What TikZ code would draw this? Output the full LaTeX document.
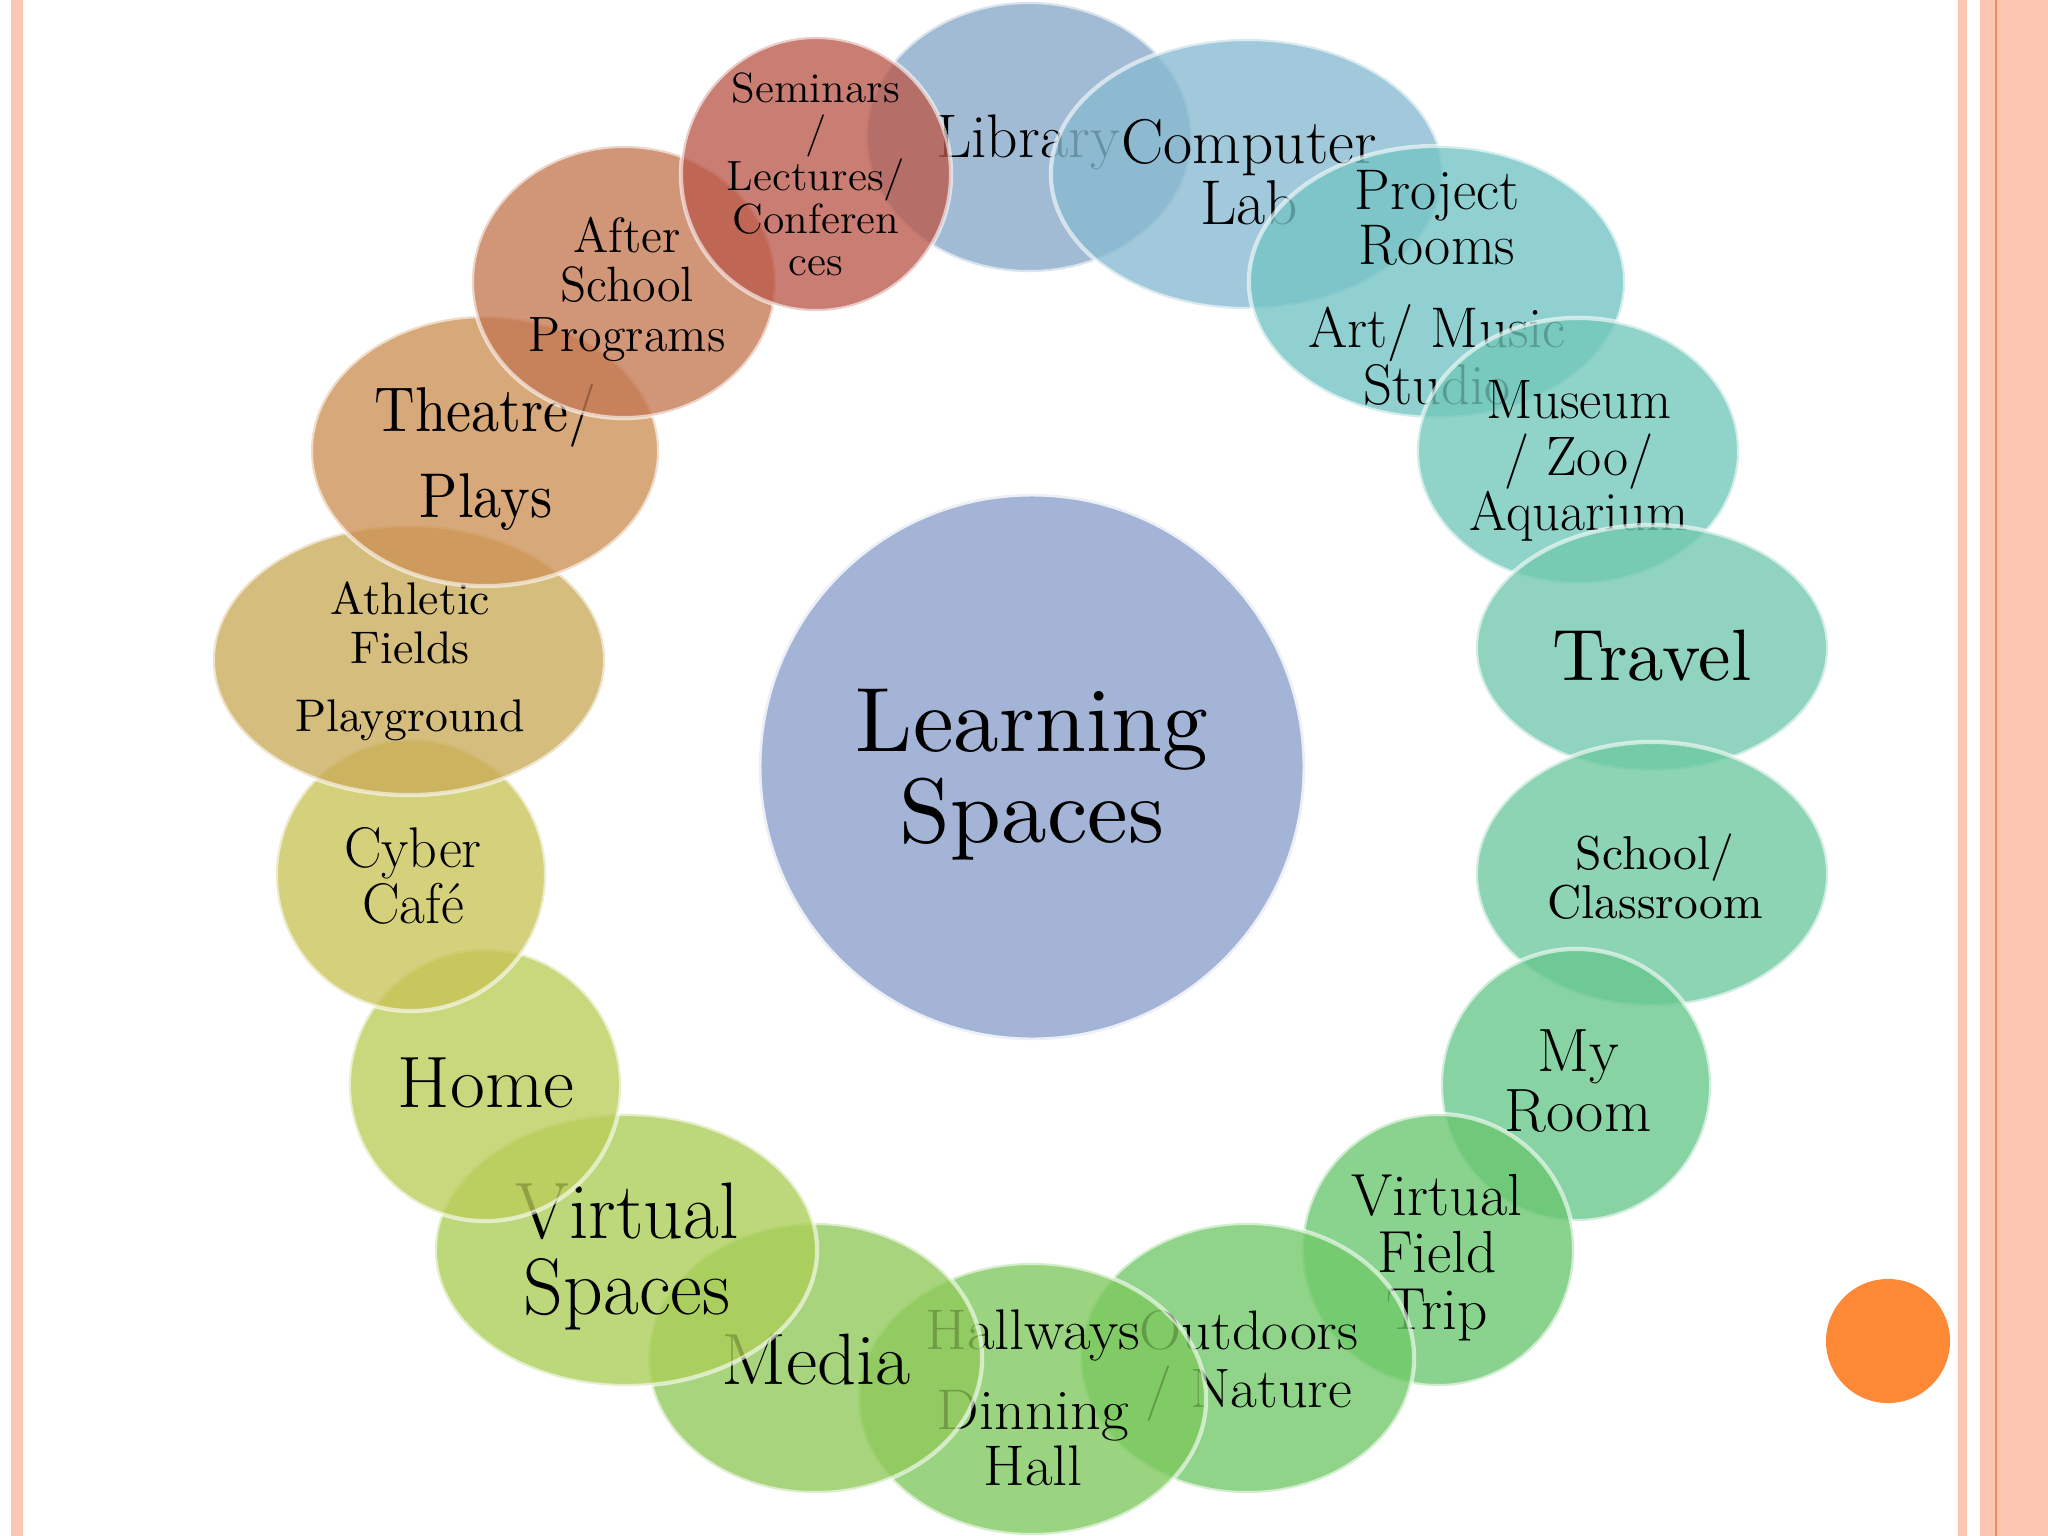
\documentclass[tikz,border=0pt]{standalone}
\usepackage{graphicx}
\usetikzlibrary{shapes.geometric}
\definecolor{cBord}{RGB}{251,198,178}
\definecolor{cBordLine}{RGB}{240,140,90}
\definecolor{cDot}{RGB}{253,137,54}
\definecolor{cCenter}{RGB}{164,180,214}
\definecolor{cLib}{RGB}{136,169,200}
\definecolor{cComp}{RGB}{136,186,209}
\definecolor{cProj}{RGB}{115,196,196}
\definecolor{cMus}{RGB}{114,200,186}
\definecolor{cTrav}{RGB}{114,201,174}
\definecolor{cSchool}{RGB}{109,201,161}
\definecolor{cMyRoom}{RGB}{102,199,139}
\definecolor{cVft}{RGB}{106,199,111}
\definecolor{cOutd}{RGB}{112,201,104}
\definecolor{cHall}{RGB}{126,201,94}
\definecolor{cMedia}{RGB}{144,201,89}
\definecolor{cVs}{RGB}{171,206,86}
\definecolor{cHome}{RGB}{186,205,89}
\definecolor{cCyber}{RGB}{200,195,86}
\definecolor{cAth}{RGB}{201,171,89}
\definecolor{cTheatre}{RGB}{205,145,85}
\definecolor{cAfter}{RGB}{197,120,83}
\definecolor{cSem}{RGB}{188,89,76}
\tikzset{
  ring/.style={ellipse, inner sep=0pt, fill opacity=0.78, draw=white, draw opacity=0.6, line width=1.2pt},
  lbl/.style={inner sep=0pt, anchor=base, text=black},
}
\newcommand\ltext[5]{\scalebox{#1}[#2]{\fontsize{#3}{#4}\selectfont\begin{tabular}[t]{@{}c@{}}#5\end{tabular}}}
\begin{document}
\begin{tikzpicture}[x=0.01cm,y=-0.01cm]
\useasboundingbox (0,0) rectangle (2048,1536);
\fill[white] (0,0) rectangle (2048,1536);
% borders
\fill[cBord] (11,0) rectangle (23,1536);
\fill[cBord] (1958,0) rectangle (1967,1536);
\fill[cBord] (1980,0) rectangle (2048,1536);
\fill[cBordLine] (1995,0) rectangle (1997,1536);
% centre
\node[circle, minimum size=5.46cm, inner sep=0pt, fill=cCenter, draw=white, draw opacity=0.8, line width=1.5pt] (center) at (1032,767) {};
\node[lbl] (centerT) at (1032,751) {\ltext{2.6}{2.6}{10}{10}{Learning\\Spaces}};
% ring
\node[ring, fill=cLib, minimum width=3.26cm, minimum height=2.70cm] (lib) at (1029,137) {};
\node[lbl] (libT) at (1028,157) {\ltext{1}{1}{17.5}{17.5}{Library}};
\node[ring, fill=cComp, minimum width=3.92cm, minimum height=2.70cm] (comp) at (1247,174) {};
\node[lbl] (compT) at (1249,163) {\ltext{1}{1}{18}{16.7}{Computer\\Lab}};
\node[ring, fill=cProj, minimum width=3.76cm, minimum height=2.72cm] (proj) at (1437,282) {};
\node[lbl] (projT) at (1437,209) {\ltext{0.99}{1}{16.3}{15.6}{Project\\Rooms\\[6.7pt]Art/ Music\\Studio}};
\node[ring, fill=cMus, minimum width=3.22cm, minimum height=2.66cm] (mus) at (1578,451) {};
\node[lbl] (musT) at (1579,418) {\ltext{0.98}{1}{15.8}{15.0}{Museum\\/ Zoo/\\Aquarium}};
\node[ring, fill=cTrav, minimum width=3.52cm, minimum height=2.46cm] (trav) at (1652,648) {};
\node[lbl] (travT) at (1652,680) {\ltext{2.07}{2.07}{10}{10}{Travel}};
\node[ring, fill=cSchool, minimum width=3.52cm, minimum height=2.64cm] (school) at (1652,874) {};
\node[lbl] (schoolT) at (1655,869) {\ltext{1.35}{1.35}{10}{10.4}{School/\\Classroom}};
\node[ring, fill=cMyRoom, minimum width=2.70cm, minimum height=2.72cm] (myroom) at (1576,1085) {};
\node[lbl] (myroomT) at (1578,1071) {\ltext{1}{1}{17.4}{17.1}{My\\Room}};
\node[ring, fill=cVft, minimum width=2.72cm, minimum height=2.72cm] (vft) at (1438,1250) {};
\node[lbl] (vftT) at (1437,1215) {\ltext{1}{1}{16.9}{15.6}{Virtual\\Field\\Trip}};
\node[ring, fill=cOutd, minimum width=3.34cm, minimum height=2.70cm] (outd) at (1247,1358) {};
\node[lbl] (outdT) at (1249,1349) {\ltext{1.05}{1}{15.8}{15.6}{Outdoors\\/ Nature}};
\node[ring, fill=cHall, minimum width=3.48cm, minimum height=2.72cm] (hall) at (1032,1399) {};
\node[lbl] (hallT) at (1033,1349) {\ltext{1.05}{1}{16.3}{14.9}{Hallways\\[7.4pt]Dinning\\Hall}};
\node[ring, fill=cMedia, minimum width=3.34cm, minimum height=2.70cm] (media) at (815,1358) {};
\node[lbl] (mediaT) at (816,1384) {\ltext{1.05}{1}{20.7}{20.7}{Media}};
\node[ring, fill=cVs, minimum width=3.82cm, minimum height=2.72cm] (vs) at (626,1250) {};
\node[lbl] (vsT) at (627,1238) {\ltext{0.97}{1}{22.8}{19.3}{Virtual\\Spaces}};
\node[ring, fill=cHome, minimum width=2.72cm, minimum height=2.72cm] (home) at (485,1085) {};
\node[lbl] (homeT) at (486,1107) {\ltext{1.04}{1}{20.7}{20.7}{Home}};
\node[ring, fill=cCyber, minimum width=2.70cm, minimum height=2.72cm] (cyber) at (411,875) {};
\node[lbl] (cyberT) at (413,867) {\ltext{0.98}{1}{16.3}{15.2}{Cyber\\Café}};
\node[ring, fill=cAth, minimum width=3.92cm, minimum height=2.70cm] (ath) at (409,660) {};
\node[lbl] (athT) at (410,614) {\ltext{1.3}{1.3}{10}{10.85}{Athletic\\Fields\\[4pt]Playground}};
\node[ring, fill=cTheatre, minimum width=3.48cm, minimum height=2.70cm] (theatre) at (485,451) {};
\node[lbl] (theatreT) at (486,431) {\ltext{1.6}{1.8}{10}{13.6}{Theatre/\\Plays}};
\node[ring, fill=cAfter, minimum width=3.04cm, minimum height=2.72cm] (after) at (624,282) {};
\node[lbl] (afterT) at (627,252) {\ltext{0.97}{1}{14.1}{14.1}{After\\School\\Programs}};
\node[ring, fill=cSem, minimum width=2.70cm, minimum height=2.74cm] (sem) at (816,174) {};
\node[lbl] (semT) at (816,102) {\ltext{1.03}{1}{12}{12.1}{Seminars\\/\\Lectures/\\Conferen\\ces}};
% orange dot
\node[circle, minimum size=1.24cm, inner sep=0pt, fill=cDot] (dot) at (1888,1341) {};
\end{tikzpicture}
\end{document}
